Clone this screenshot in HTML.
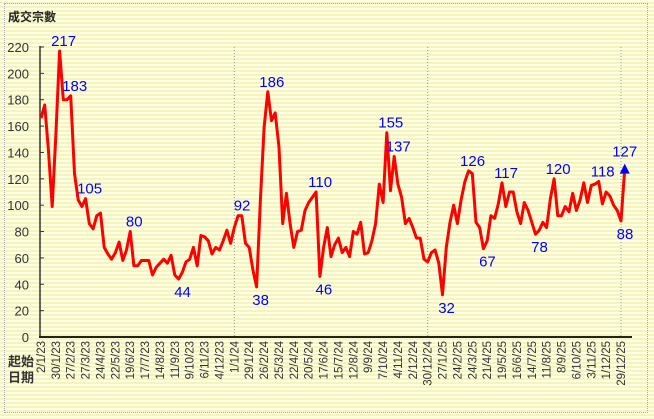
<!DOCTYPE html>
<html><head><meta charset="utf-8">
<style>
html,body{margin:0;padding:0;}
body{width:654px;height:419px;overflow:hidden;font-family:"Liberation Sans","Noto Sans CJK TC",sans-serif;}
#wrap{position:absolute;left:0;top:0;width:654px;height:419px;
background:repeating-linear-gradient(to bottom,#ffffe6 0px,#ffffe6 2px,#f4f4bc 2px,#f4f4bc 4px);}
#border{position:absolute;left:4px;top:3px;width:644px;height:410px;border:1px dotted #aaa;box-sizing:border-box;}
</style></head>
<body>
<div id="wrap">
<div id="border"></div>
<svg id="chart" width="654" height="419" style="position:absolute;left:0;top:0"></svg>
</div>
<script>
const values=[166,176,142,99,154,217,180,180,183,124,104,99,105,86,82,92,94,68,63,59,64,72,58,66,80,54,54,58,58,58,47,53,56,59,56,62,47,44,49,57,59,68,54,77,76,73,63,68,66,73,81,71,83,92,92,71,68,51,38,104,159,186,164,170,144,86,109,86,68,80,81,96,102,106,110,
46,68,83,61,70,75,64,68,61,80,78,87,63,64,73,86,116,102,155,111,137,116,106,86,90,83,75,75,59,57,64,66,56,32,68,87,100,86,104,118,126,124,87,83,67,73,92,90,101,117,99,110,110,95,86,102,96,87,78,81,87,83,105,120,92,92,99,95,109,96,104,117,102,115,116,118,101,110,107,100,96,88,127];
const yTicks=[0,20,40,60,80,100,120,140,160,180,200,220];
const xLabels=["2/1/23","30/1/23","27/2/23","27/3/23","24/4/23","22/5/23","19/6/23","17/7/23","14/8/23","11/9/23","9/10/23","6/11/23","4/12/23","1/1/24","29/1/24","26/2/24","25/3/24","22/4/24","20/5/24","17/6/24","15/7/24","12/8/24","9/9/24","7/10/24","4/11/24","2/12/24","30/12/24","27/1/25","24/2/25","24/3/25","21/4/25","19/5/25","16/6/25","14/7/25","11/8/25","8/9/25","6/10/25","3/11/25","1/12/25","29/12/25"];
const annIdx=[5,8,12,24,37,53,58,61,74,75,93,95,108,115,119,124,133,138,150,156,157];
const annPos=["a","a","a","a","b","a","b","a","a","b","a","a","b","a","b","a","b","a","a","b","a"];
const yearLines=[52,104,156];

const svg=document.getElementById('chart');
const NS='http://www.w3.org/2000/svg';
const X0=41,XS=3.718,Y0=337,YS=290/220;
const xs=i=>X0+i*XS, ys=v=>Y0-v*YS;
function mk(t,a){const e=document.createElementNS(NS,t);for(const k in a)e.setAttribute(k,a[k]);svg.appendChild(e);return e;}

const title=mk('text',{x:8,y:21,'font-size':12,'font-weight':'bold',fill:'#222'});
title.textContent='成交宗數';



yearLines.forEach(i=>{
 const l=mk('line',{x1:xs(i),x2:xs(i),y1:ys(220),y2:Y0,stroke:'#999','stroke-dasharray':'1,2','stroke-width':1});
 
 
});
yTicks.forEach(v=>{
 const t=mk('text',{x:29,y:ys(v)+5,'font-size':13,'text-anchor':'end',fill:'#333'});
 t.textContent=v;
 
 
 const tk=mk('line',{x1:40,x2:44,y1:ys(v),y2:ys(v),stroke:'#333','stroke-width':1});
 
 
});
const ya=mk('line',{x1:40,x2:40,y1:ys(220)-1,y2:Y0+1,stroke:'#333','stroke-width':1.5});


const xa=mk('line',{x1:39,x2:632,y1:Y0,y2:Y0,stroke:'#222','stroke-width':2});



xLabels.forEach((s,k)=>{
 const x=xs(k*4)+4;
 const t=mk('text',{x:0,y:0,'font-size':11.5,'text-anchor':'end',fill:'#333',transform:`translate(${x},341) rotate(-90)`});
 t.textContent=s;
 
 
});
const s1=mk('text',{x:8,y:366,'font-size':13,'font-weight':'bold',fill:'#333'});s1.textContent='起始';


const s2=mk('text',{x:8,y:382,'font-size':13,'font-weight':'bold',fill:'#333'});s2.textContent='日期';



const pts=values.map((v,i)=>xs(i).toFixed(1)+','+ys(v).toFixed(1)).join(' ');
const line=mk('polyline',{points:pts,fill:'none',stroke:'#ff0000','stroke-width':3,'stroke-linejoin':'round'});



const last=values.length-1;
const arr=mk('polygon',{points:`${xs(last)-5},${ys(values[last])+4} ${xs(last)+5},${ys(values[last])+4} ${xs(last)},${ys(values[last])-6}`,fill:'#0000ff'});



annIdx.forEach((i,k)=>{
 const v=values[i];
 const up=annPos[k]==='a';
 const y=up?ys(v)-5-(i===last?8:0):ys(v)+18;
 const t=mk('text',{x:xs(i)+(i===last?0:4),y:y,'font-size':15,'text-anchor':'middle',fill:'#0000ff'});
 t.textContent=v;
 
 
});
</script>
</body></html>
